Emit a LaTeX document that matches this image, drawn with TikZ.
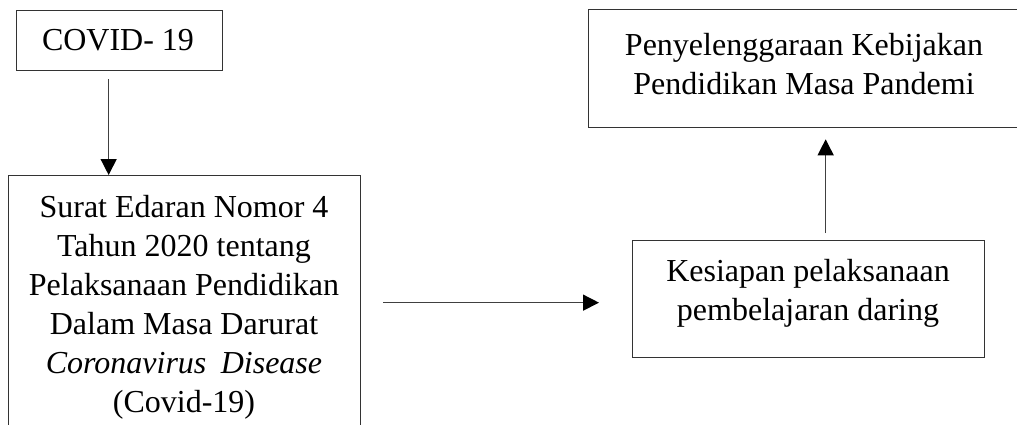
\documentclass[tikz,border=0pt]{standalone}
\usepackage{fontspec}
\setmainfont{Liberation Serif}
\usetikzlibrary{arrows.meta,calc}
\begin{document}
\begin{tikzpicture}[x=1pt,y=-1pt,
  box/.style={draw=black!80,line width=1.3pt,inner sep=0pt},
  txt/.style={align=center,inner sep=0pt,font=\fontsize{32}{39}\selectfont},
  arr/.style={draw=black!75,line width=1.4pt,-{Triangle[length=16pt,width=16pt,black]}}]
\useasboundingbox (0,0) rectangle (1017,425);
\clip (0,0) rectangle (1017,425);
% boxes
\node[box,minimum width=206,minimum height=60,anchor=north west] (covid) at (16,10) {};
\node[box,minimum width=352,minimum height=265,anchor=north west] (surat) at (8,175) {};
\node[box,minimum width=352,minimum height=117,anchor=north west] (kes) at (632,240) {};
\node[box,minimum width=442,minimum height=118,anchor=north west] (pen) at (588,9) {};
% texts
\node[txt] (tcovid) at (118,40) {COVID- 19};
\node[txt] (tsurat) at (184,307) {Surat Edaran Nomor 4\\Tahun 2020 tentang\\Pelaksanaan Pendidikan\\Dalam Masa Darurat\\\textit{Coronavirus\hspace{0.45em}Disease}\\(Covid-19)};
\node[txt] (tkes) at (808,293) {Kesiapan pelaksanaan\\pembelajaran daring};
\node[txt] (tpen) at (804,64) {Penyelenggaraan Kebijakan\\Pendidikan Masa Pandemi};
% connectors
\draw[arr] ($(covid.south)+(-11,8)$) coordinate (d1) -- (d1 |- surat.north);
\draw[arr] ($(surat.east)+(22,-5.5)$) -- ($(kes.west)+(-33,3.5)$);
\draw[arr] ($(kes.north)+(17,-7)$) coordinate (u1) -- (u1 |- {$(pen.south)+(0,11)$});
\end{tikzpicture}
\end{document}
